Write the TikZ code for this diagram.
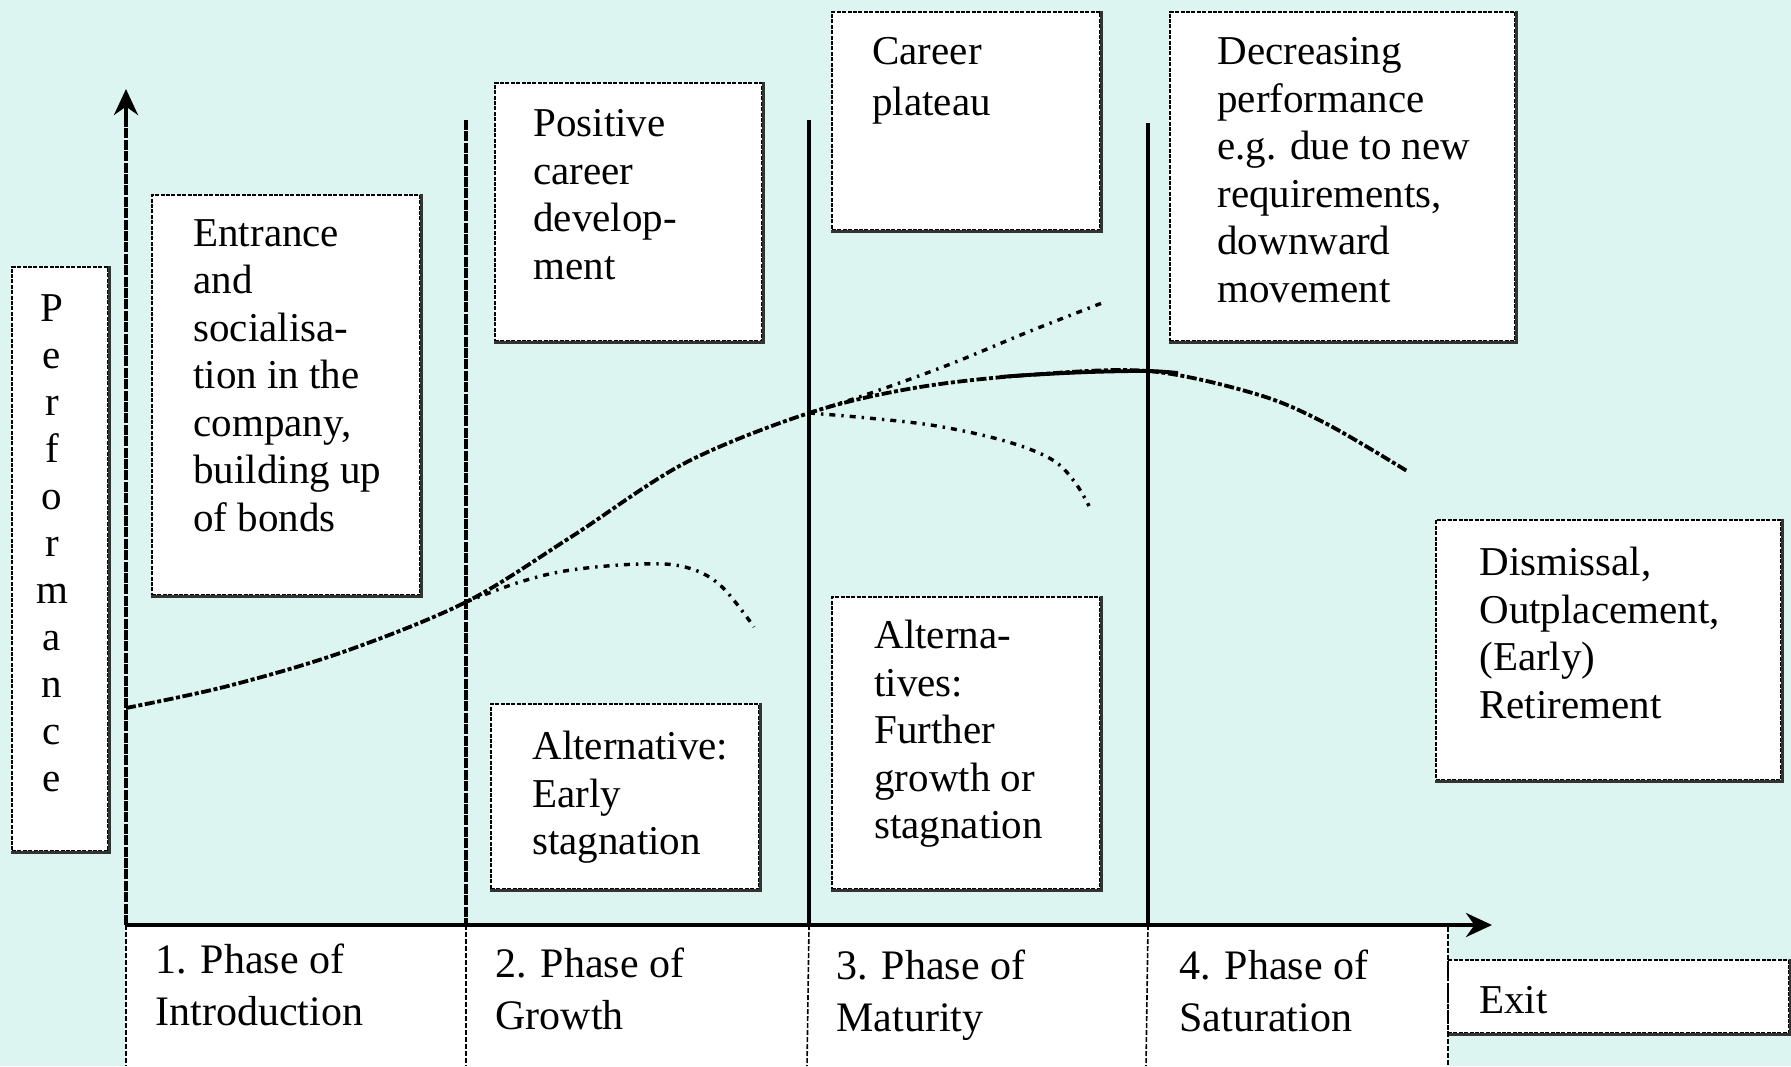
\documentclass[tikz,border=0pt]{standalone}
\usepackage{fontspec}
\setmainfont{Liberation Serif}
\usetikzlibrary{arrows.meta,fit}
\definecolor{bg}{RGB}{220,245,241}
\begin{document}
\begin{tikzpicture}[x=0.5pt,y=-0.5pt,
  box/.style={draw=black, fill=white, dash pattern=on 2pt off 0.7pt, line width=1.1pt, inner sep=0pt},
  shadowline/.style={draw=black!80, line width=1.4pt},
  txt/.style={anchor=north west, align=left, inner sep=0pt, font=\fontsize{20.5}{23.75}\selectfont},
  phasetxt/.style={anchor=north west, align=left, inner sep=0pt, font=\fontsize{21}{26}\selectfont},
  axisline/.style={line width=1.9pt, -{Stealth[length=13pt,width=12pt]}},
  yaxisline/.style={line width=2pt, dash pattern=on 5pt off 0.7pt},
  phaseline/.style={line width=1.7pt},
  cellline/.style={line width=0.8pt, dash pattern=on 2.5pt off 1pt},
  maincurve/.style={line width=1.9pt, dash pattern=on 5pt off 1.3pt on 2pt off 1.3pt},
  branch/.style={line width=1.7pt, dash pattern=on 3pt off 3pt on 1.2pt off 3pt},
]
\useasboundingbox (0,0) rectangle (1791,1066);
\fill[bg] (0,0) rectangle (1791,1066);

% coordinates
\coordinate (origin) at (126,925);
\coordinate (ytip) at (126,89);
\coordinate (yneck) at (126,125);
\coordinate (ybot) at (126,1066);
\coordinate (xtip) at (1492,925);
\coordinate (l1t) at (466,120);  \coordinate (l1m) at (466,925); \coordinate (l1b) at (466,1066);
\coordinate (l2t) at (809,120);  \coordinate (l2m) at (809,925); \coordinate (l2b) at (807,1066);
\coordinate (l3t) at (1148,123); \coordinate (l3m) at (1148,925); \coordinate (l3b) at (1146,1066);
\coordinate (l4t) at (1448,927); \coordinate (l4b) at (1448,1066);

% white table cells
\fill[white] (126,925) rectangle (1448,1066);

% boxes
\node[box, fit={(12,267) (108,851)}] (perfbox) {};
\node[box, fit={(152,195) (420,595)}] (entbox) {};
\node[box, fit={(495,83) (762,341)}] (posbox) {};
\node[box, fit={(832,12) (1100,230)}] (platbox) {};
\node[box, fit={(1170,12) (1515,341)}] (decbox) {};
\node[box, fit={(491,704) (759,889)}] (earlybox) {};
\node[box, fit={(832,597) (1100,889)}] (altbox) {};
\node[box, fit={(1436,520) (1781,780)}] (disbox) {};
\node[box, fit={(1448,960) (1789,1033)}] (exitbox) {};
\foreach \b in {perfbox,entbox,posbox,platbox,decbox,earlybox,altbox,disbox,exitbox}
  \draw[shadowline] (\b.north east) -- (\b.south east) -- (\b.south west);

% texts
\node[anchor=north, align=center, inner sep=0pt, font=\fontsize{20.5}{23.5}\selectfont] (perftxt) at (52,294)
  {P\\e\\r\\f\\o\\r\\m\\a\\n\\c\\e};
\node[txt] (enttxt) at (193,219) {Entrance\\and\\socialisa-\\tion in the\\company,\\building up\\of bonds};
\node[txt] (postxt) at (533,109) {Positive\\career\\develop-\\ment};
\node[txt, font=\fontsize{20.5}{25.5}\selectfont] (plattxt) at (872,37) {Career\\plateau};
\node[txt] (dectxt) at (1217,37) {Decreasing\\performance\\e.g. due to new\\requirements,\\downward\\movement};
\node[txt] (earlytxt) at (532,731) {Alternative:\\Early\\stagnation};
\node[txt] (alttxt) at (874,620) {Alterna-\\tives:\\Further\\growth or\\stagnation};
\node[txt] (distxt) at (1479,547) {Dismissal,\\Outplacement,\\(Early)\\Retirement};
\node[txt] (exittxt) at (1479,986) {Exit};
\node[phasetxt] (ph1) at (155,944) {1. Phase of\\Introduction};
\node[phasetxt] (ph2) at (495,948) {2. Phase of\\Growth};
\node[phasetxt] (ph3) at (836,950) {3. Phase of\\Maturity};
\node[phasetxt] (ph4) at (1179,950) {4. Phase of\\Saturation};

% lower cell separators
\draw[cellline] (origin) -- (ybot);
\draw[cellline] (l1m) -- (l1b);
\draw[cellline] (l2m) -- (l2b);
\draw[cellline] (l3m) -- (l3b);
\draw[cellline] (l4t) -- (l4b);

% phase lines
\draw[phaseline, dash pattern=on 5pt off 0.7pt] (l1t) -- (l1m);
\draw[phaseline] (l2t) -- (l2m);
\draw[phaseline] (l3t) -- (l3m);

% axes
\draw[yaxisline] (origin) -- (yneck);
\draw[line width=2pt, -{Stealth[length=13pt,width=12pt]}] (yneck) -- (ytip);
\draw[axisline] (origin) -- (xtip);

% curves
\coordinate (g) at (466,602);
\coordinate (m) at (809,413);
\draw[maincurve] plot[smooth, tension=0.55] coordinates {(126,708) (228,686) (343,652) (g) (571,537) (685,463) (m) (914,388) (1028,375) (1148,371) (1256,394) (1325,423) (1407,471)};
\draw[line width=1.9pt] plot[smooth, tension=0.55] coordinates {(1000,377) (1028,375) (1090,372) (1148,371) (1178,373)};
\draw[branch] plot[smooth, tension=0.6] coordinates {(g) (520,582) (571,570) (640,564) (685,567) (720,585) (754,627)};
\draw[branch] plot[smooth, tension=0.6] coordinates {(m) (868,418) (937,426) (1005,441) (1051,459) (1074,481) (1089,506)};
\draw[branch] plot[smooth, tension=0.6] coordinates {(m) (868,394) (948,365) (1028,332) (1102,303)};
\end{tikzpicture}
\end{document}
